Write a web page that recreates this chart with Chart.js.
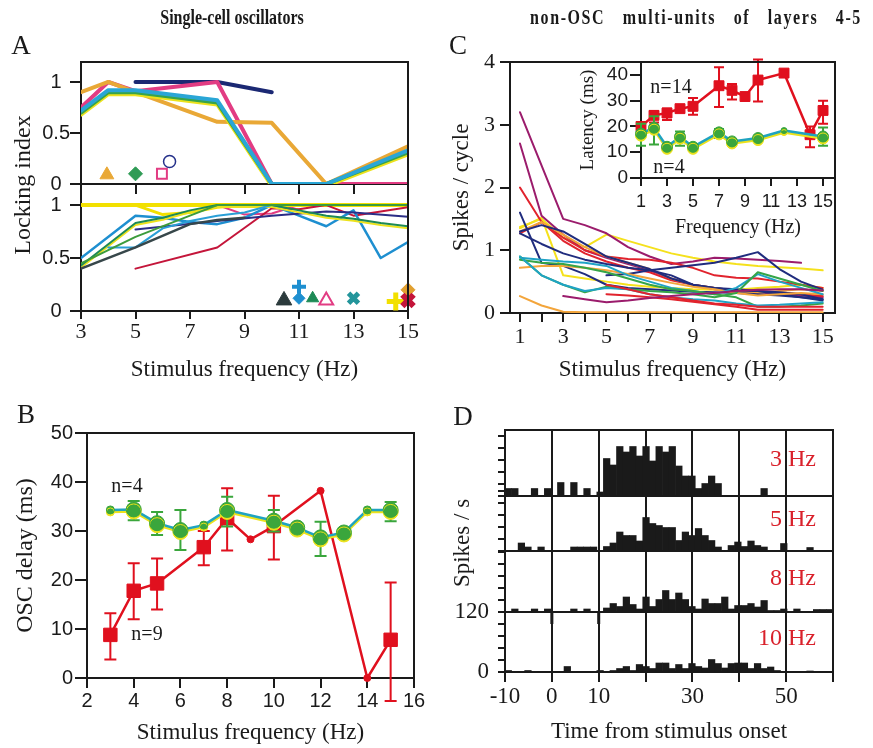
<!DOCTYPE html>
<html>
<head>
<meta charset="utf-8">
<title>Single-cell oscillators / non-OSC multi-units</title>
<script src="https://cdn.jsdelivr.net/npm/chart.js@4.4.1/dist/chart.umd.min.js"></script>
<style>
  body { margin: 0; background: #fff; }
  #page { position: relative; width: 873px; height: 748px; overflow: hidden;
          font-family: "Liberation Serif", "Times New Roman", serif; color: #1a1a1a; }
  #page canvas { position: absolute; left: 0; top: 0; }
  .t { position: absolute; white-space: nowrap; line-height: 1; transform: translate(-50%, -50%); }
  .rot { transform: translate(-50%, -50%) rotate(-90deg); }
  .head { font-weight: bold; font-size: 20px; transform: translate(-50%, -50%) scaleX(0.8); }
  .head2 { letter-spacing: 2px; word-spacing: 15px; }
  .letter { font-size: 27px; }
  .hz { position: absolute; right: 57px; font-size: 24px; color: #d9212b; line-height: 1;
        transform: translateY(-50%); white-space: nowrap; }
</style>
</head>
<body>
<div id="page">
  <canvas id="aTop" width="873" height="748"></canvas>
  <canvas id="aBot" width="873" height="748"></canvas>
  <canvas id="bChart" width="873" height="748"></canvas>
  <canvas id="cMain" width="873" height="748"></canvas>
  <canvas id="cInset" width="873" height="748"></canvas>
  <canvas id="d1" width="873" height="748"></canvas>
  <canvas id="d2" width="873" height="748"></canvas>
  <canvas id="d3" width="873" height="748"></canvas>
  <canvas id="d4" width="873" height="748"></canvas>

  <div class="t head" style="left:232px;top:17px">Single-cell oscillators</div>
  <div class="t head head2" style="left:696px;top:17px">non-OSC multi-units of layers 4-5</div>
  <div class="t letter" style="left:21px;top:45px">A</div>
  <div class="t letter" style="left:26px;top:414px">B</div>
  <div class="t letter" style="left:458px;top:45px">C</div>
  <div class="t letter" style="left:463px;top:416px">D</div>
  <div class="t rot" style="left:22px;top:185px;font-size:24px">Locking index</div>
  <div class="t rot" style="left:461px;top:543px;font-size:23px">Spikes / s</div>
  <div class="t" style="left:127px;top:485px;font-size:20px">n=4</div>
  <div class="t" style="left:147px;top:633px;font-size:20px">n=9</div>
  <div class="t" style="left:671px;top:86px;font-size:20px">n=14</div>
  <div class="t" style="left:669px;top:166px;font-size:20px">n=4</div>
  <div class="hz" style="top:458px">3 Hz</div>
  <div class="hz" style="top:518px">5 Hz</div>
  <div class="hz" style="top:577px">8 Hz</div>
  <div class="hz" style="top:637px">10 Hz</div>
</div>

<script>
// ---------- panel A: locking index of single-cell oscillators ----------
const aFreq = [3, 4, 5, 6, 7, 8, 9, 10, 11, 12, 13, 14, 15];

const aTopOrange = [0.9, 1.0, 0.9, null, null, 0.61, null, 0.6, null, 0.0, null, null, 0.37];
const aTopPink   = [0.75, 1.0, 0.91, null, null, 1.0, null, 0.0, null, null, null, null, 0.0];
const aTopNavy   = [null, null, 1.0, null, null, 1.0, null, 0.9, null, null, null, null, null];
const aTopCyan   = [0.72, 0.92, 0.92, null, null, 0.82, null, 0.0, null, 0.0, null, null, 0.33];
const aTopGreen  = [0.7, 0.9, 0.9, null, null, 0.8, null, 0.0, null, 0.0, null, null, 0.31];

const aTopMarkX = [3.95, 5.0, 5.97, 6.25];
const aTopMarkY = [0.09, 0.1, 0.1, 0.22];

const aBotYellow  = [1, 1, 1, 1, 1, 1, 1, 1, 1, 1, 1, 1, 1];
const aBotYellow2 = [null, null, 1.0, 0.91, 0.93, 0.98, 1.0, null, null, null, null, null, null];
const aBotPink    = [null, null, 1.0, 1.0, 1.0, 1.0, 0.91, 0.92, 1.0, 1.0, 1.0, 1.0, 1.0];
const aBotCrimson = [null, null, 0.4, null, null, 0.6, null, 0.97, 0.96, 1.0, 0.9, null, 0.98];
const aBotNavy    = [null, null, 0.77, null, null, 0.85, null, 0.9, null, 0.94, 0.93, null, 0.89];
const aBotGray    = [0.4, null, 0.6, null, 0.82, 0.86, 0.88, null, null, null, null, null, null];
const aBotBlue    = [0.5, null, 0.9, 0.88, 0.84, 0.82, 0.88, 1.0, 0.9, 0.8, 0.95, 0.5, 0.65];
const aBotBlue2   = [null, 0.6, 0.6, 0.78, 0.85, 0.9, 0.93, 1.0, null, null, null, null, null];
const aBotGreen   = [0.43, null, 0.83, 0.88, 0.95, 1.0, 1.0, 1.0, 0.95, 0.9, 0.87, 0.83, 0.8];
const aBotGreen2  = [0.45, null, 0.7, null, 0.9, 1.0, null, 1.0, null, null, null, null, 1.0];

const aBotMarkX = [10.45, 11.0, 11.0, 11.5, 12.0, 13.0, 14.55, 15.0, 15.0];
const aBotMarkY = [0.1, 0.23, 0.12, 0.12, 0.1, 0.12, 0.09, 0.2, 0.1];

// ---------- panel B: OSC delay ----------
const bFreqG  = [3, 4, 5, 6, 7, 8, 10, 11, 12, 13, 14, 15];
const bDelayG = [34.3, 34.4, 31.6, 30.2, 31.2, 34.3, 32.1, 30.7, 28.7, 29.7, 34.3, 34.3];
const bErrLoG = [null, 32.2, 29.2, 26.1, null, 30.9, 29.9, null, 24.9, null, null, 32.0];
const bErrHiG = [null, 36.1, 33.9, 34.3, null, 37.0, 34.3, null, 31.9, null, null, 35.9];
const bFreqR  = [3, 4, 5, 7, 8, 9, 10, 12, 14, 15];
const bDelayR = [8.8, 17.8, 19.3, 26.7, 32.6, 28.3, 31.0, 38.2, 0.0, 7.8];
const bErrLoR = [3.8, 12.0, 14.0, 23.0, 26.0, null, 24.2, null, null, -4.7];
const bErrHiR = [13.2, 23.4, 24.4, 30.0, 38.7, null, 37.2, null, null, 19.5];

// ---------- panel C: spikes per cycle (multi-units) ----------
const cFreq = [1, 2, 3, 4, 5, 6, 7, 8, 9, 10, 11, 12, 13, 14, 15];
const cPurple1 = [3.2, null, 1.5, 1.4, 1.27, 1.05, 0.9, 0.78, 0.82, 0.88, 0.87, 0.85, 0.83, 0.8, null];
const cPurple2 = [2.7, 1.55, 1.25, 1.0, 0.88, 0.78, 0.68, 0.55, 0.45, 0.38, 0.35, 0.33, 0.3, 0.28, 0.25];
const cPurple3 = [null, null, 0.27, 0.22, 0.17, 0.2, 0.24, 0.27, 0.3, 0.32, 0.35, 0.37, 0.38, 0.38, 0.36];
const cRed1    = [2.0, 1.45, 1.2, 1.0, 0.9, 0.86, 0.85, 0.8, 0.72, 0.6, 0.56, 0.55, 0.5, 0.45, 0.4];
const cRed2    = [1.27, 1.45, 1.15, 0.95, 0.82, 0.72, 0.65, 0.52, 0.45, 0.4, 0.36, 0.35, 0.33, 0.3, 0.27];
const cRed3    = [null, null, null, null, 0.3, 0.28, 0.25, 0.22, 0.18, 0.14, 0.1, 0.05, 0.05, 0.05, 0.05];
const cRed4    = [null, null, null, null, 0.45, 0.38, 0.3, 0.25, 0.2, 0.15, 0.13, 0.1, 0.1, 0.1, 0.1];
const cNavy1   = [1.6, 0.8, 0.75, 0.62, 0.45, 0.4, 0.38, 0.36, 0.34, 0.33, 0.32, 0.3, 0.28, 0.25, 0.22];
const cNavy2   = [1.27, 1.1, 0.95, 0.85, 0.78, 0.72, 0.68, 0.6, 0.45, 0.4, 0.36, 0.35, 0.3, 0.25, 0.2];
const cNavy3   = [null, null, null, null, 0.6, 0.62, 0.68, 0.72, 0.76, 0.8, 0.88, 0.97, 0.7, 0.5, 0.37];
const cNavy4   = [1.3, 1.4, 1.3, 1.1, 0.9, 0.8, 0.7, 0.55, 0.45, 0.4, 0.38, 0.35, 0.33, 0.3, 0.22];
const cYellow1 = [1.37, 1.5, 1.2, 1.05, 1.25, 1.15, 1.05, 0.95, 0.88, 0.82, 0.78, 0.75, 0.73, 0.71, 0.68];
const cYellow2 = [1.35, 1.52, 0.6, 0.55, 0.5, 0.45, 0.42, 0.4, 0.38, 0.37, 0.37, 0.4, 0.42, 0.45, 0.4];
const cOrange1 = [0.72, 0.75, 0.75, 0.72, 0.68, 0.62, 0.55, 0.48, 0.42, 0.38, 0.32, 0.28, 0.3, 0.32, 0.3];
const cOrange2 = [0.27, 0.12, 0.02, 0.01, 0.01, 0.01, 0.01, 0.01, 0.01, 0.01, 0.01, 0.01, 0.01, 0.01, 0.01];
const cOrange3 = [1.3, 1.45, 1.25, 1.05, 0.9, 0.8, 0.7, 0.55, 0.45, 0.4, 0.35, 0.32, 0.35, 0.38, 0.35];
const cGreen1  = [0.9, 0.6, 0.45, 0.33, 0.42, 0.38, 0.35, 0.33, 0.3, 0.25, 0.32, 0.65, 0.55, 0.45, 0.35];
const cGreen2  = [0.85, 0.8, 0.78, 0.72, 0.65, 0.55, 0.45, 0.38, 0.35, 0.3, 0.25, 0.1, 0.1, 0.12, 0.15];
const cCyan1   = [0.88, 0.85, 0.82, 0.8, 0.75, 0.6, 0.5, 0.4, 0.35, 0.3, 0.4, 0.62, 0.5, 0.4, 0.3];
const cCyan2   = [0.9, 0.6, 0.45, 0.35, 0.4, 0.38, 0.3, 0.25, 0.22, 0.2, 0.15, 0.12, 0.13, 0.15, 0.17];

// inset: latency
const cLatFreqR = [1, 2, 3, 4, 5, 7, 8, 9, 10, 12, 14, 15];
const cLatR     = [20.0, 24.3, 25.2, 26.9, 27.8, 35.8, 34.0, 31.6, 38.0, 40.7, 16.8, 26.2];
const cLatLoR   = [null, 21.5, 22.5, null, 24.5, 27.5, 30.5, null, 29.7, null, 11.9, 21.0];
const cLatHiR   = [null, 26.0, 27.0, null, 31.0, 43.0, 36.5, null, 46.0, null, 20.0, 30.0];
const cLatFreqG = [1, 2, 3, 4, 5, 7, 8, 10, 12, 15];
const cLatG     = [17.2, 19.5, 12.1, 16.0, 12.1, 17.7, 14.2, 15.5, 18.4, 16.1];
const cLatLoG   = [12.5, 13.0, null, 12.5, null, 15.5, null, null, null, 12.5];
const cLatHiG   = [21.0, 24.0, null, 18.0, null, 19.0, null, null, null, 19.6];

// ---------- panel D: PSTHs (spikes/s, 1.4 ms bins from -10 to 60 ms) ----------
const dBinStart = -10, dBinWidth = 1.4;
const dPsth3Hz  = [15,15,0,0,15,0,15,0,27,0, 27,0,15,0,8,75,62,99,88,99, 80,99,70,99,88,99,60,40,40,15, 25,40,25,0,0,0,0,0,0,15, 0,0,0,0,0,0,0,0,0,0];
const dPsth5Hz  = [0,0,16,8,0,8,0,0,0,0, 8,8,8,8,0,9,16,38,31,31, 20,67,55,51,47,47,21,38,31,45, 31,21,8,0,11,18,9,20,11,8, 0,0,15,0,0,0,7,0,0,0];
const dPsth8Hz  = [0,6,0,0,6,0,6,0,0,0, 6,0,6,0,0,8,17,11,30,15, 6,30,11,25,43,25,38,25,11,6, 26,17,17,30,6,13,13,17,10,23, 3,3,6,0,6,0,0,5,5,5];
const dPsth10Hz = [3,0,0,3,0,0,0,0,0,11, 0,0,0,0,3,0,3,7,11,3, 15,11,7,18,18,7,15,7,17,11, 8,25,17,8,17,18,18,7,17,7, 10,3,0,0,0,0,2,0,0,0];
const dArtifactMs = [0, 10];
const dArtifactTop = 120, dArtifactBottom = 96;

// ---------- drawing ----------
const INK = '#1a1a1a';
const SERIF = '"Liberation Serif", "Times New Roman", serif';
const SANS = '"Liberation Sans", Arial, sans-serif';
const W = 873, H = 748;

const pts = (xs, ys) => xs.map((x, i) => ({x: x, y: ys[i]}));
const font = (family, size) => ({family: family, size: size, lineHeight: 1.2});

// frame, white fill, error bars, offset "shadow" for the two-tone lines
const fxPlugin = {
  id: 'fx',
  beforeDraw(chart, args, opts) {
    if (!opts.fill) return;
    const a = chart.chartArea, ctx = chart.ctx;
    ctx.save();
    ctx.fillStyle = opts.fill;
    ctx.fillRect(a.left, a.top, a.right - a.left, a.bottom - a.top);
    ctx.restore();
  },
  beforeDatasetDraw(chart, args) {
    const ds = chart.data.datasets[args.index];
    const ctx = chart.ctx;
    if (ds.errLo) {
      const ys = args.meta.yScale;
      ctx.save();
      ctx.strokeStyle = ds.errColor;
      ctx.lineWidth = 2;
      ds.errLo.forEach((lo, i) => {
        if (lo == null) return;
        const x = args.meta.data[i].x;
        const y1 = ys.getPixelForValue(lo), y2 = ys.getPixelForValue(ds.errHi[i]);
        ctx.beginPath();
        ctx.moveTo(x, y1); ctx.lineTo(x, y2);
        ctx.moveTo(x - ds.cap, y1); ctx.lineTo(x + ds.cap, y1);
        ctx.moveTo(x - ds.cap, y2); ctx.lineTo(x + ds.cap, y2);
        ctx.stroke();
      });
      ctx.restore();
    }
    if (ds.shadow) {
      ctx.save();
      ctx.shadowColor = ds.shadow;
      ctx.shadowOffsetY = 2;
      ctx.shadowBlur = 0;
    }
  },
  afterDatasetDraw(chart, args) {
    if (chart.data.datasets[args.index].shadow) chart.ctx.restore();
  },
  afterDraw(chart, args, opts) {
    if (!opts.sides) return;
    const a = chart.chartArea, ctx = chart.ctx;
    ctx.save();
    ctx.strokeStyle = INK;
    ctx.lineWidth = 2;
    ctx.beginPath();
    if (opts.sides.includes('t')) { ctx.moveTo(a.left - 1, a.top); ctx.lineTo(a.right + 1, a.top); }
    if (opts.sides.includes('r')) { ctx.moveTo(a.right, a.top); ctx.lineTo(a.right, a.bottom); }
    ctx.stroke();
    ctx.restore();
  }
};
Chart.register(fxPlugin);

function axis(o) {
  const horiz = o.pos === 'bottom';
  return {
    type: 'linear', position: o.pos, min: o.min, max: o.max, offset: false,
    afterBuildTicks: s => { s.ticks = o.ticks.map(v => ({value: v})); },
    afterFit: s => { if (horiz) s.height = o.size; else s.width = o.size; },
    border: {display: true, color: INK, width: 2},
    grid: {display: true, offset: false, drawOnChartArea: !!o.grid, color: INK, lineWidth: 2,
           drawTicks: o.tl > 0, tickLength: o.tl, tickColor: INK, tickWidth: 2},
    ticks: {display: !!o.labels, font: o.font, color: INK, padding: o.pad || 0,
            maxRotation: 0, autoSkip: false, crossAlign: o.align || 'near',
            callback: v => (o.labels && o.labels.includes(v)) ? String(v) : ''},
    title: {display: !!o.title, text: o.title || '', font: o.titleFont, color: INK, padding: 0}
  };
}

function plot(id, box, scales, datasets, fx) {
  return new Chart(document.getElementById(id), {
    type: 'line',
    data: {datasets: datasets},
    options: {
      responsive: false,
      animation: false,
      events: [],
      layout: {padding: {left: box.L - box.yW, top: box.T, right: W - box.R, bottom: H - box.B - box.xH}},
      scales: scales,
      plugins: {legend: {display: false}, tooltip: {enabled: false}, fx: fx || {}},
      elements: {line: {tension: 0}}
    }
  });
}

const line = (xs, ys, color, width, extra) => Object.assign({
  data: pts(xs, ys), borderColor: color, backgroundColor: color, borderWidth: width,
  pointRadius: 0, spanGaps: true, fill: false, borderJoinStyle: 'round', borderCapStyle: 'round'
}, extra || {});

const marks = (xs, ys, styles) => ({
  data: pts(xs, ys), showLine: false, clip: false,
  pointStyle: styles.map(s => s.shape),
  pointRadius: styles.map(s => s.r),
  pointBorderWidth: styles.map(s => s.w),
  pointBorderColor: styles.map(s => s.color),
  pointBackgroundColor: styles.map(s => s.open ? 'rgba(255,255,255,0)' : s.color)
});

// ---- A top ----
const aTopMarkStyle = [
  {shape: 'triangle', color: '#e9a836', r: 8, w: 1},
  {shape: 'rectRot', color: '#2f9b55', r: 7, w: 1},
  {shape: 'rect', color: '#e23c83', r: 7, w: 2, open: true},
  {shape: 'circle', color: '#24308a', r: 6, w: 1.5, open: true}
];
const oddHz = [3, 5, 7, 9, 11, 13, 15];
plot('aTop', {L: 81, T: 62, R: 408, B: 184, yW: 81, xH: 12}, {
  x: axis({pos: 'bottom', min: 3, max: 15, ticks: oddHz, tl: 10, size: 12}),
  y: axis({pos: 'left', min: 0, max: 1.196, ticks: [0, 0.5, 1], labels: [0, 0.5, 1], tl: 11, pad: 0,
           align: 'center', font: font(SANS, 20), size: 81})
}, [
  line(aFreq, aTopCyan, '#2aa6d6', 4),
  line(aFreq, aTopGreen, '#38a34a', 4, {shadow: '#ece21c'}),
  line(aFreq, aTopOrange, '#e9a836', 4),
  line(aFreq, aTopPink, '#e23c83', 4),
  line(aFreq, aTopNavy, '#1b2873', 4),
  marks(aTopMarkX, aTopMarkY, aTopMarkStyle)
], {sides: 'tr'});

// ---- A bottom ----
const aBotMarkStyle = [
  {shape: 'triangle', color: '#2b3a3c', r: 9, w: 1},
  {shape: 'cross', color: '#1e8fd0', r: 7, w: 4},
  {shape: 'rectRot', color: '#1e8fd0', r: 6, w: 1},
  {shape: 'triangle', color: '#1d8a55', r: 7, w: 1},
  {shape: 'triangle', color: '#e23c83', r: 8, w: 2, open: true},
  {shape: 'crossRot', color: '#23959b', r: 7, w: 5},
  {shape: 'cross', color: '#f2e000', r: 9, w: 5},
  {shape: 'rectRot', color: '#e1a030', r: 7, w: 1},
  {shape: 'crossRot', color: '#c4153a', r: 8, w: 6}
];
plot('aBot', {L: 81, T: 186, R: 408, B: 311, yW: 81, xH: 73}, {
  x: axis({pos: 'bottom', min: 3, max: 15, ticks: oddHz, labels: oddHz, tl: 8, pad: 0,
           font: font(SERIF, 22), size: 73, title: 'Stimulus frequency (Hz)', titleFont: font(SERIF, 23)}),
  y: axis({pos: 'left', min: 0, max: 1.18, ticks: [0, 0.5, 1], labels: [0, 0.5, 1], tl: 11, pad: 0,
           align: 'center', font: font(SANS, 20), size: 81})
}, [
  line(aFreq, aBotGreen2, '#3c9c3c', 2),
  line(aFreq, aBotGray, '#37474a', 2.5),
  line(aFreq, aBotBlue2, '#2a9fd6', 2),
  line(aFreq, aBotGreen, '#1d8a55', 2, {shadow: '#ece21c'}),
  line(aFreq, aBotNavy, '#2b2d86', 2),
  line(aFreq, aBotBlue, '#1e8fd0', 2.5),
  line(aFreq, aBotCrimson, '#c4153a', 2),
  line(aFreq, aBotYellow2, '#f2e000', 3),
  line(aFreq, aBotYellow, '#f2e000', 4),
  line(aFreq, aBotPink, '#e23c83', 2),
  marks(aBotMarkX, aBotMarkY, aBotMarkStyle)
], {sides: 'r'});

// ---- B ----
const bSmallG = [3, 7, 14];
const bSmallR = [9, 12, 14];
const evenHz = [2, 4, 6, 8, 10, 12, 14, 16];
const bTicksY = [0, 10, 20, 30, 40, 50];
plot('bChart', {L: 87, T: 433, R: 414, B: 678, yW: 76, xH: 69}, {
  x: axis({pos: 'bottom', min: 2, max: 16, ticks: evenHz, labels: evenHz, tl: 10, pad: 1,
           font: font(SANS, 20), size: 69, title: 'Stimulus frequency (Hz)', titleFont: font(SERIF, 23)}),
  y: axis({pos: 'left', min: 0, max: 50, ticks: bTicksY, labels: bTicksY, tl: 12, pad: 2,
           font: font(SANS, 20), size: 76, title: 'OSC delay (ms)', titleFont: font(SERIF, 24)})
}, [
  line(bFreqG, bDelayG, '#1fa3c0', 2.5, {
    shadow: '#ece21c', clip: false,
    pointRadius: bFreqG.map(f => bSmallG.includes(f) ? 4 : 7.5),
    pointBackgroundColor: '#3aa63c', pointBorderColor: '#3aa63c', pointBorderWidth: 1,
    errLo: bErrLoG, errHi: bErrHiG, errColor: '#3aa63c', cap: 6
  }),
  line(bFreqR, bDelayR, '#e0101e', 2.5, {
    clip: false,
    pointStyle: bFreqR.map(f => bSmallR.includes(f) ? 'circle' : 'rect'),
    pointRadius: bFreqR.map(f => bSmallR.includes(f) ? 3.5 : 9.5),
    pointBackgroundColor: '#e0101e', pointBorderColor: '#e0101e', pointBorderWidth: 1,
    errLo: bErrLoR, errHi: bErrHiR, errColor: '#e0101e', cap: 6
  })
], {sides: 'tr'});

// ---- C main ----
const C_PURPLE = '#9b1c6c', C_RED = '#e1232d', C_NAVY = '#202c7e', C_YELLOW = '#f5e11c',
      C_ORANGE = '#f3a53b', C_GREEN = '#36a547', C_CYAN = '#1fa3c6';
const cSeries = [
  [cOrange2, C_ORANGE], [cPurple3, C_PURPLE], [cRed3, C_RED], [cRed4, C_RED], [cCyan2, C_CYAN],
  [cGreen2, C_GREEN], [cGreen1, C_GREEN], [cCyan1, C_CYAN], [cOrange1, C_ORANGE], [cNavy1, C_NAVY],
  [cNavy4, C_NAVY], [cNavy2, C_NAVY], [cNavy3, C_NAVY], [cOrange3, C_ORANGE], [cRed2, C_RED],
  [cRed1, C_RED], [cPurple2, C_PURPLE], [cPurple1, C_PURPLE], [cYellow2, C_YELLOW], [cYellow1, C_YELLOW]
];
const allHz = [1, 2, 3, 4, 5, 6, 7, 8, 9, 10, 11, 12, 13, 14, 15];
const oddHz1 = [1, 3, 5, 7, 9, 11, 13, 15];
plot('cMain', {L: 510, T: 62, R: 835, B: 313, yW: 62, xH: 71}, {
  x: axis({pos: 'bottom', min: 0.54, max: 15.57, ticks: allHz, labels: oddHz1, tl: 9, pad: 2,
           font: font(SERIF, 22), size: 71, title: 'Stimulus frequency (Hz)', titleFont: font(SERIF, 23)}),
  y: axis({pos: 'left', min: 0, max: 4, ticks: [0, 1, 2, 3, 4], labels: [0, 1, 2, 3, 4], tl: 10, pad: 5,
           font: font(SERIF, 22), size: 62, title: 'Spikes / cycle', titleFont: font(SERIF, 23)})
}, cSeries.map(s => line(cFreq, s[0], s[1], 2)), {sides: 'tr'});

// ---- C inset ----
const latTicks = [0, 10, 20, 30, 40];
plot('cInset', {L: 641, T: 62, R: 835, B: 178, yW: 64, xH: 62}, {
  x: axis({pos: 'bottom', min: 1, max: 15.92, ticks: oddHz1, labels: oddHz1, tl: 8, pad: 5,
           font: font(SANS, 18), size: 62, title: 'Frequency (Hz)', titleFont: font(SERIF, 20)}),
  y: axis({pos: 'left', min: 0, max: 45, ticks: latTicks, labels: latTicks, tl: 11, pad: 2,
           font: font(SANS, 19), size: 64, title: 'Latency (ms)', titleFont: font(SERIF, 19)})
}, [
  line(cLatFreqG, cLatG, '#1fa3c0', 2.5, {
    shadow: '#ece21c', clip: false,
    pointRadius: cLatFreqG.map(f => f === 12 ? 3 : 5.5),
    pointBackgroundColor: '#3aa63c', pointBorderColor: '#3aa63c', pointBorderWidth: 1,
    errLo: cLatLoG, errHi: cLatHiG, errColor: '#3aa63c', cap: 5
  }),
  line(cLatFreqR, cLatR, '#e0101e', 2.5, {
    clip: false, pointStyle: 'rect', pointRadius: 7,
    pointBackgroundColor: '#e0101e', pointBorderColor: '#e0101e', pointBorderWidth: 1,
    errLo: cLatLoR, errHi: cLatHiR, errColor: '#e0101e', cap: 5
  })
], {fill: '#ffffff', sides: 'tr'});

// ---- D ----
const dBinCenters = dPsth3Hz.map((_, i) => dBinStart + dBinWidth * (i + 0.5));
const dGrid = [-10, 0, 10, 20, 30, 40, 50, 60];
const dLabels = [-10, 0, 10, 30, 50];
const dRowTicks = [0, 24, 48, 72, 96, 120];
const dRows = [
  {id: 'd1', T: 430, B: 496, max: 132, vals: dPsth3Hz},
  {id: 'd2', T: 496, B: 551, max: 110, vals: dPsth5Hz},
  {id: 'd3', T: 551, B: 612, max: 122, vals: dPsth8Hz},
  {id: 'd4', T: 612, B: 672, max: 120, vals: dPsth10Hz}
];
dRows.forEach((row, k) => {
  const last = k === dRows.length - 1;
  const ds = [{
    type: 'bar', data: pts(dBinCenters, row.vals), backgroundColor: INK, borderWidth: 0,
    barPercentage: 1, categoryPercentage: 1, grouped: false
  }];
  if (last) {
    const art = [];
    dArtifactMs.forEach(ms => { art.push({x: ms, y: dArtifactTop}, {x: ms, y: dArtifactBottom}, {x: ms + 1, y: null}); });
    ds.push({data: art, borderColor: INK, borderWidth: 3, pointRadius: 0, spanGaps: false});
  }
  plot(row.id, {L: 505, T: row.T, R: 833, B: row.B, yW: 60, xH: last ? 74 : 0}, {
    x: axis({pos: 'bottom', min: -10, max: 60, ticks: dGrid, grid: true, tl: last ? 10 : 0,
             labels: last ? dLabels : null, pad: 1, font: font(SERIF, 23), size: last ? 74 : 0,
             title: last ? 'Time from stimulus onset' : null, titleFont: font(SERIF, 23)}),
    y: axis({pos: 'left', min: 0, max: row.max, ticks: dRowTicks, labels: last ? [0, 120] : null,
             tl: 7, pad: 9, font: font(SERIF, 23), size: 60})
  }, ds, {sides: 'tr'});
});
</script>
</body>
</html>
